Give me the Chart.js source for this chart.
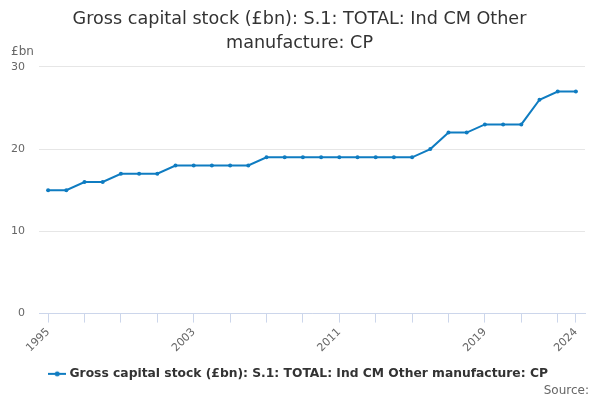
<!DOCTYPE html>
<html>
<head>
<meta charset="utf-8">
<script src="https://cdn.jsdelivr.net/npm/chart.js@4/dist/chart.umd.min.js"></script>
<style>
  html, body { margin: 0; padding: 0; background: #fff; }
  #wrap { width: 600px; height: 400px; }
</style>
</head>
<body>
<div id="wrap"><canvas id="stockChart"></canvas></div>
<script>
// Data
const years = [];
for (let y = 1995; y <= 2024; y++) years.push(String(y));
const stockValues = [15, 15, 16, 16, 17, 17, 17, 18, 18, 18, 18, 18, 19, 19, 19, 19, 19, 19, 19, 19, 19, 20, 22, 22, 23, 23, 23, 26, 27, 27];
const shownYears = ['1995', '2003', '2011', '2019', '2024'];
const yTicks = [0, 10, 20, 30];

const seriesName = 'Gross capital stock (£bn): S.1: TOTAL: Ind CM Other manufacture: CP';
const blue = '#0f7cc1';

// Legend marker: line with a dot in the middle
const marker = document.createElement('canvas');
marker.width = 18; marker.height = 8;
const mctx = marker.getContext('2d');
mctx.strokeStyle = blue; mctx.lineWidth = 2;
mctx.beginPath(); mctx.moveTo(0, 4); mctx.lineTo(18, 4); mctx.stroke();
mctx.fillStyle = blue;
mctx.beginPath(); mctx.arc(9, 4, 2.5, 0, Math.PI * 2); mctx.fill();

// Extra texts: unit label and source
const extraText = {
  id: 'extraText',
  afterDraw(chart) {
    const ctx = chart.ctx;
    ctx.save();
    ctx.font = '12px "DejaVu Sans"';
    ctx.fillStyle = '#666';
    ctx.textBaseline = 'middle';
    ctx.textAlign = 'left';
    ctx.fillText('£bn', 11, 52);
    ctx.textAlign = 'right';
    ctx.fillText('Source:', 589, 391);
    ctx.restore();
  }
};

new Chart(document.getElementById('stockChart'), {
  type: 'line',
  data: {
    labels: years,
    datasets: [{
      label: seriesName,
      data: stockValues,
      borderColor: blue,
      backgroundColor: blue,
      borderWidth: 2,
      pointRadius: 2,
      pointBackgroundColor: blue,
      pointBorderWidth: 0,
      tension: 0
    }]
  },
  options: {
    responsive: true,
    maintainAspectRatio: false,
    animation: false,
    layout: { padding: { left: 7, right: 8, top: 4, bottom: 10 } },
    plugins: {
      title: {
        display: true,
        text: ['Gross capital stock (£bn): S.1: TOTAL: Ind CM Other', 'manufacture: CP'],
        color: '#333',
        font: { family: 'DejaVu Sans', size: 17.6, weight: 'normal', lineHeight: 1.33 },
        padding: { top: 4, bottom: 12 }
      },
      legend: {
        position: 'bottom',
        labels: {
          color: '#333',
          font: { family: 'DejaVu Sans', size: 12.3, weight: 'bold' },
          usePointStyle: true,
          pointStyle: marker,
          padding: 10
        }
      },
      tooltip: { enabled: false }
    },
    scales: {
      x: {
        offset: true,
        afterBuildTicks: function(axis) {
          axis.ticks = axis.ticks.filter(function(t, i) {
            return i % 2 === 0 || i === years.length - 1;
          });
        },
        ticks: {
          autoSkip: false,
          maxRotation: 45,
          minRotation: 45,
          color: '#666',
          font: { family: 'DejaVu Sans', size: 11 },
          callback: function(value) {
            const lab = years[value];
            return shownYears.includes(lab) ? lab : '';
          }
        },
        grid: {
          drawOnChartArea: false,
          drawTicks: true,
          tickLength: 9,
          color: '#ccd6eb',
          offset: false
        },
        border: { color: '#ccd6eb', width: 1 }
      },
      y: {
        min: 0,
        max: 30,
        afterBuildTicks: function(axis) {
          axis.ticks = yTicks.map(function(v) { return { value: v }; });
        },
        afterFit: function(axis) {
          axis.width = 32;
        },
        ticks: {
          color: '#666',
          font: { family: 'DejaVu Sans', size: 11 },
          padding: 14
        },
        grid: { color: '#e6e6e6', drawTicks: false },
        border: { display: false }
      },
      // empty spacer on the right so the plot ends where the reference does
      spacer: {
        type: 'linear',
        position: 'right',
        min: 0,
        max: 30,
        ticks: { display: false },
        grid: { display: false, drawTicks: false },
        border: { display: false },
        afterFit: function(axis) {
          axis.width = 7;
        }
      }
    }
  },
  plugins: [extraText]
});
</script>
</body>
</html>
